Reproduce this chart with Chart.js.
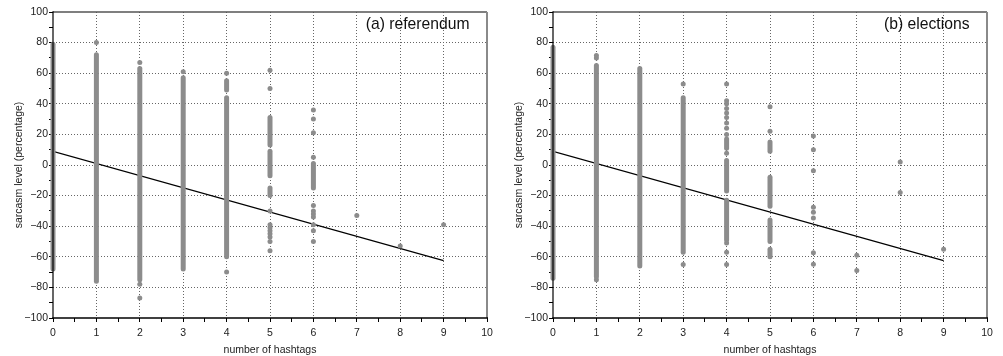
<!DOCTYPE html>
<html>
<head>
<meta charset="utf-8">
<script src="https://cdn.jsdelivr.net/npm/chart.js@4.4.1/dist/chart.umd.min.js"></script>
<style>
  html, body { margin: 0; padding: 0; background: #fff; }
  #wrap { position: relative; width: 1003px; height: 356px; }
  .panel { position: absolute; top: 0; width: 500px; height: 356px; }
</style>
</head>
<body>
<div id="wrap">
  <div class="panel" style="left:0"><canvas id="refChart" width="500" height="356"></canvas></div>
  <div class="panel" style="left:500px"><canvas id="elecChart" width="500" height="356"></canvas></div>
</div>
<script>
// Dense runs of tweets per hashtag count: [hashtags, lowest %, highest %]
const refRuns = [
    [0, -68, 79], [1, -76, 72], [2, -75, 63], [3, -68, 57], [4, -60, 44], [4, 49, 55],
    [5, 13, 31], [5, -7, 9], [5, -20, -15], [6, -15, 1]
];
// Isolated tweets: [hashtags, %]
const refPoints = [
    [1, 80], [2, 67], [2, -78], [2, -87], [3, 61], [4, 60], [4, -70],
    [5, 62], [5, 50], [5, -30], [5, -39], [5, -41], [5, -43], [5, -45], [5, -47], [5, -50], [5, -56],
    [6, 36], [6, 30], [6, 21], [6, 5], [6, -26.5], [6, -30], [6, -32], [6, -34],
    [6, -39], [6, -43], [6, -50],
    [7, -33], [8, -53], [9, -39]
];
const refFit = [[0, 8.9], [9, -62.5]];

const elecRuns = [
    [0, -74, 77], [1, -73, 65], [2, -66, 63], [3, -57, 44],
    [4, 11, 17], [4, -17, 3], [4, -49, -23],
    [5, 9, 15], [5, -27, -8], [5, -50, -36], [5, -60, -55]
];
const elecPoints = [
    [1, 70], [1, 71.5], [1, -75], [3, 53], [3, -65],
    [4, 53], [4, 42], [4, 40], [4, 37], [4, 34], [4, 31], [4, 27.5], [4, 24], [4, 20], [4, 7.6],
    [4, -51], [4, -57], [4, -65],
    [5, 38], [5, 22],
    [6, 19], [6, 10], [6, -3.7], [6, -27.6], [6, -30.9], [6, -34.6], [6, -57.4], [6, -64.8],
    [7, -59], [7, -69], [8, 2], [8, -18], [9, -55]
];
const elecFit = [[0, 8.9], [9, -62.5]];

const xTicks = { min: 0, max: 10, step: 0.5 };
const yTicks = { min: -100, max: 100, step: 10 };

const DOT = '#8c8c8c';
const FONT = "'Liberation Sans', Arial, Helvetica, sans-serif";

const framePlugin = {
    id: 'frame',
    afterDatasetsDraw(chart, args, opts) {
        const { ctx, chartArea: { left, right, top, bottom } } = chart;
        ctx.save();
        const line = (x1, y1, x2, y2, color, w) => {
            ctx.beginPath();
            ctx.strokeStyle = color;
            ctx.lineWidth = w;
            ctx.moveTo(x1, y1);
            ctx.lineTo(x2, y2);
            ctx.stroke();
        };
        line(left, top, right, top, '#555', 1.5);
        line(right, top, right, bottom, '#8a8a8a', 2);
        line(left, top - 0.75, left, bottom + 0.75, '#000', 1.2);
        line(left - 0.75, bottom, right + 1, bottom, '#000', 1.5);

        ctx.fillStyle = '#111';
        ctx.font = `15.7px ${FONT}`;
        ctx.textAlign = 'right';
        ctx.textBaseline = 'middle';
        ctx.fillText(opts.label, right - 17.5, top + 13);
        ctx.restore();
    }
};

function buildChart(canvasId, runs, points, fit, label) {
    const datasets = runs.map(([x, lo, hi]) => ({
        data: [{ x: x, y: lo }, { x: x, y: hi }],
        showLine: true,
        borderColor: DOT,
        borderWidth: 5,
        borderCapStyle: 'round',
        pointRadius: 0,
        clip: false
    }));
    datasets.push({
        data: points.map(([x, y]) => ({ x, y })),
        backgroundColor: DOT,
        borderWidth: 0,
        pointRadius: 2.5,
        clip: false
    });
    datasets.push({
        data: fit.map(([x, y]) => ({ x, y })),
        showLine: true,
        borderColor: '#000',
        borderWidth: 1.1,
        pointRadius: 0
    });

    return new Chart(document.getElementById(canvasId), {
        type: 'scatter',
        data: { datasets },
        options: {
            responsive: false,
            animation: false,
            devicePixelRatio: 1,
            layout: { padding: { top: 12, right: 13, left: 0, bottom: 0 } },
            plugins: {
                legend: { display: false },
                tooltip: { enabled: false },
                frame: { label }
            },
            scales: {
                x: {
                    type: 'linear',
                    min: xTicks.min,
                    max: xTicks.max,
                    afterFit(scale) { scale.height = 38; },
                    ticks: {
                        stepSize: xTicks.step,
                        autoSkip: false,
                        maxRotation: 0,
                        padding: 4.5,
                        color: '#222',
                        font: { family: FONT, size: 10.5 },
                        callback: v => Number.isInteger(v) ? String(v) : ''
                    },
                    grid: {
                        color: c => (Number.isInteger(c.tick.value) && c.tick.value > 0 && c.tick.value < 10) ? '#666' : 'rgba(0,0,0,0)',
                        lineWidth: 1,
                        tickColor: '#000',
                        tickLength: 4,
                        tickWidth: 1
                    },
                    border: { display: false, dash: [1, 2] },
                    title: {
                        display: true,
                        text: 'number of hashtags',
                        color: '#222',
                        font: { family: FONT, size: 10.5 },
                        padding: { top: 2, bottom: 0 }
                    }
                },
                y: {
                    type: 'linear',
                    min: yTicks.min,
                    max: yTicks.max,
                    afterFit(scale) { scale.width = 53; },
                    ticks: {
                        stepSize: yTicks.step,
                        autoSkip: false,
                        padding: 1,
                        color: '#222',
                        font: { family: FONT, size: 10.5 },
                        callback: v => v % 20 === 0 ? String(v).replace('-', '\u2212') : ''
                    },
                    grid: {
                        color: c => (c.tick.value % 20 === 0 && Math.abs(c.tick.value) !== 100) ? '#666' : 'rgba(0,0,0,0)',
                        lineWidth: 1,
                        tickColor: '#000',
                        tickLength: 4,
                        tickWidth: 1
                    },
                    border: { display: false, dash: [1, 2] },
                    title: {
                        display: true,
                        text: 'sarcasm level (percentage)',
                        color: '#222',
                        font: { family: FONT, size: 10.5 },
                        padding: { top: 13, bottom: 0 }
                    }
                }
            }
        },
        plugins: [framePlugin]
    });
}

buildChart('refChart', refRuns, refPoints, refFit, '(a) referendum');
buildChart('elecChart', elecRuns, elecPoints, elecFit, '(b) elections');
</script>
</body>
</html>
